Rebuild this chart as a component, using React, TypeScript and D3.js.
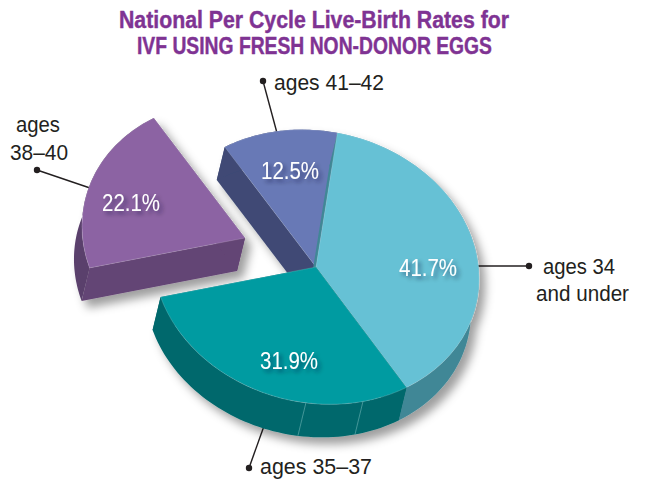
import * as d3 from 'd3';

const WIDTH = 645;
const HEIGHT = 479;

const titleLines = ['National Per Cycle Live-Birth Rates for', 'IVF USING FRESH NON-DONOR EGGS'];
const groups = ['ages 34 and under', 'ages 35–37', 'ages 38–40', 'ages 41–42'];
const rates = [41.7, 31.9, 22.1, 12.5];

const topColors = ['#66c1d5', '#069ba1', '#8c64a3', '#6879b6'];
const rimColors = ['#418796', '#00686c', '#5a3f6c', '#3f4a75'];
const cutColors = ['#418796', '#00686c', '#644474', '#3f4a75'];

// centre of the pie and the tilted ellipse it sits on
const cx = 316;
const cy = 267;
const tilt = { a: 163, b: 14.4, c: -3, d: 136.6 };
const depth = { x: -8, y: 33 };
const purpleOffset = { x: -71, y: -29 };
const tealSeams = [162.2, 182.5];

const rad = (deg: number) => (deg * Math.PI) / 180;

const pie = d3
  .pie<number>()
  .sort(null)
  .startAngle(rad(6.5))
  .endAngle(rad(366.5));
const arcs = pie(rates);

const topArc = d3.arc<d3.PieArcDatum<number>>().innerRadius(0).outerRadius(1);
const polyLine = d3.line<[number, number]>().curve(d3.curveLinear);

function project(angle: number, r = 1): [number, number] {
  const u = r * Math.sin(angle);
  const v = -r * Math.cos(angle);
  return [tilt.a * u + tilt.c * v, tilt.b * u + tilt.d * v];
}

const drop = ([x, y]: [number, number]): [number, number] => [x + depth.x, y + depth.y];

function rimPath(a0: number, a1: number) {
  const steps = d3.range(0, 61).map((i) => a0 + ((a1 - a0) * i) / 60);
  const top = steps.map((a) => project(a));
  const bottom = top.map(drop).reverse();
  return polyLine([...top, ...bottom]) + 'Z';
}

function cutPath(angle: number) {
  const edge = project(angle);
  const apex: [number, number] = [0, 0];
  return polyLine([apex, edge, drop(edge), drop(apex)]) + 'Z';
}

const matrix = `matrix(${tilt.a} ${tilt.b} ${tilt.c} ${tilt.d} 0 0)`;

function Slice({ i }: { i: number }) {
  const d = arcs[i];
  return (
    <g>
      <path d={cutPath(d.startAngle)} fill={cutColors[i]} />
      <path d={cutPath(d.endAngle)} fill={cutColors[i]} />
      <path d={rimPath(d.startAngle, d.endAngle)} fill={rimColors[i]} />
      <path
        d={topArc(d) ?? ''}
        transform={matrix}
        fill={topColors[i]}
        stroke="#ffffff"
        strokeOpacity={0.22}
        strokeWidth={0.7}
        style={{ vectorEffect: 'non-scaling-stroke' }}
      />
    </g>
  );
}

function Leader({ x1, y1, x2, y2 }: { x1: number; y1: number; x2: number; y2: number }) {
  return (
    <g>
      <line x1={x1} y1={y1} x2={x2} y2={y2} stroke="#231f20" strokeWidth={1.4} />
      <circle cx={x1} cy={y1} r={3.2} fill="#231f20" />
    </g>
  );
}

function Value({ x, y, i }: { x: number; y: number; i: number }) {
  return (
    <text
      x={x}
      y={y}
      textAnchor="middle"
      fontSize={23}
      textLength={58}
      lengthAdjust="spacingAndGlyphs"
      fill="#ffffff"
      filter="url(#textShadow)"
    >
      {`${rates[i].toFixed(1)}%`}
    </text>
  );
}

function Label({ x, y, w, text }: { x: number; y: number; w: number; text: string }) {
  return (
    <text x={x} y={y} textLength={w} lengthAdjust="spacingAndGlyphs">
      {text}
    </text>
  );
}

export default function App() {
  const seamEdges = tealSeams.map((deg) => project(rad(deg)));
  return (
    <svg
      width={WIDTH}
      height={HEIGHT}
      viewBox={`0 0 ${WIDTH} ${HEIGHT}`}
      role="img"
      aria-label={groups.join(', ')}
      style={{ position: 'absolute', left: 0, top: 0, background: '#ffffff' }}
      fontFamily="'Liberation Sans', Arial, sans-serif"
    >
      <defs>
        <filter id="pieShadow" x="-20%" y="-20%" width="140%" height="140%">
          <feDropShadow dx={6} dy={7} stdDeviation={5} floodColor="#000000" floodOpacity={0.38} />
        </filter>
        <filter id="textShadow" x="-20%" y="-30%" width="150%" height="180%">
          <feDropShadow dx={3} dy={3} stdDeviation={2.2} floodColor="#1a1a2a" floodOpacity={0.45} />
        </filter>
      </defs>

      <g fontWeight={700} fontSize={23} fill="#7f3393" stroke="#7f3393" strokeWidth={0.4}>
        <Label x={119} y={28} w={390} text={titleLines[0]} />
        <Label x={137} y={54} w={355} text={titleLines[1]} />
      </g>

      <Leader x1={263} y1={81} x2={277} y2={133} />
      <Leader x1={37} y1={170} x2={90} y2={188} />
      <Leader x1={529} y1={266} x2={476} y2={266} />
      <Leader x1={249} y1={468} x2={264} y2={426} />

      <g transform={`translate(${cx + purpleOffset.x},${cy + purpleOffset.y})`} filter="url(#pieShadow)">
        <Slice i={2} />
      </g>
      <g transform={`translate(${cx},${cy})`} filter="url(#pieShadow)">
        <Slice i={3} />
        <Slice i={0} />
        <Slice i={1} />
        {seamEdges.map((p, k) => {
          const q = drop(p);
          return <line key={k} x1={p[0]} y1={p[1]} x2={q[0]} y2={q[1]} stroke="#5fa9aa" strokeWidth={0.7} />;
        })}
      </g>

      <Value x={131} y={211} i={2} />
      <Value x={290} y={179} i={3} />
      <Value x={428} y={276} i={0} />
      <Value x={289} y={369} i={1} />

      <g fontSize={21.5} fill="#231f20">
        <Label x={274} y={90} w={110} text="ages 41–42" />
        <Label x={16} y={132} w={44} text="ages" />
        <Label x={10} y={160} w={58} text="38–40" />
        <Label x={543} y={274} w={72} text="ages 34" />
        <Label x={536} y={301} w={93} text="and under" />
        <Label x={260} y={474} w={112} text="ages 35–37" />
      </g>
    </svg>
  );
}
